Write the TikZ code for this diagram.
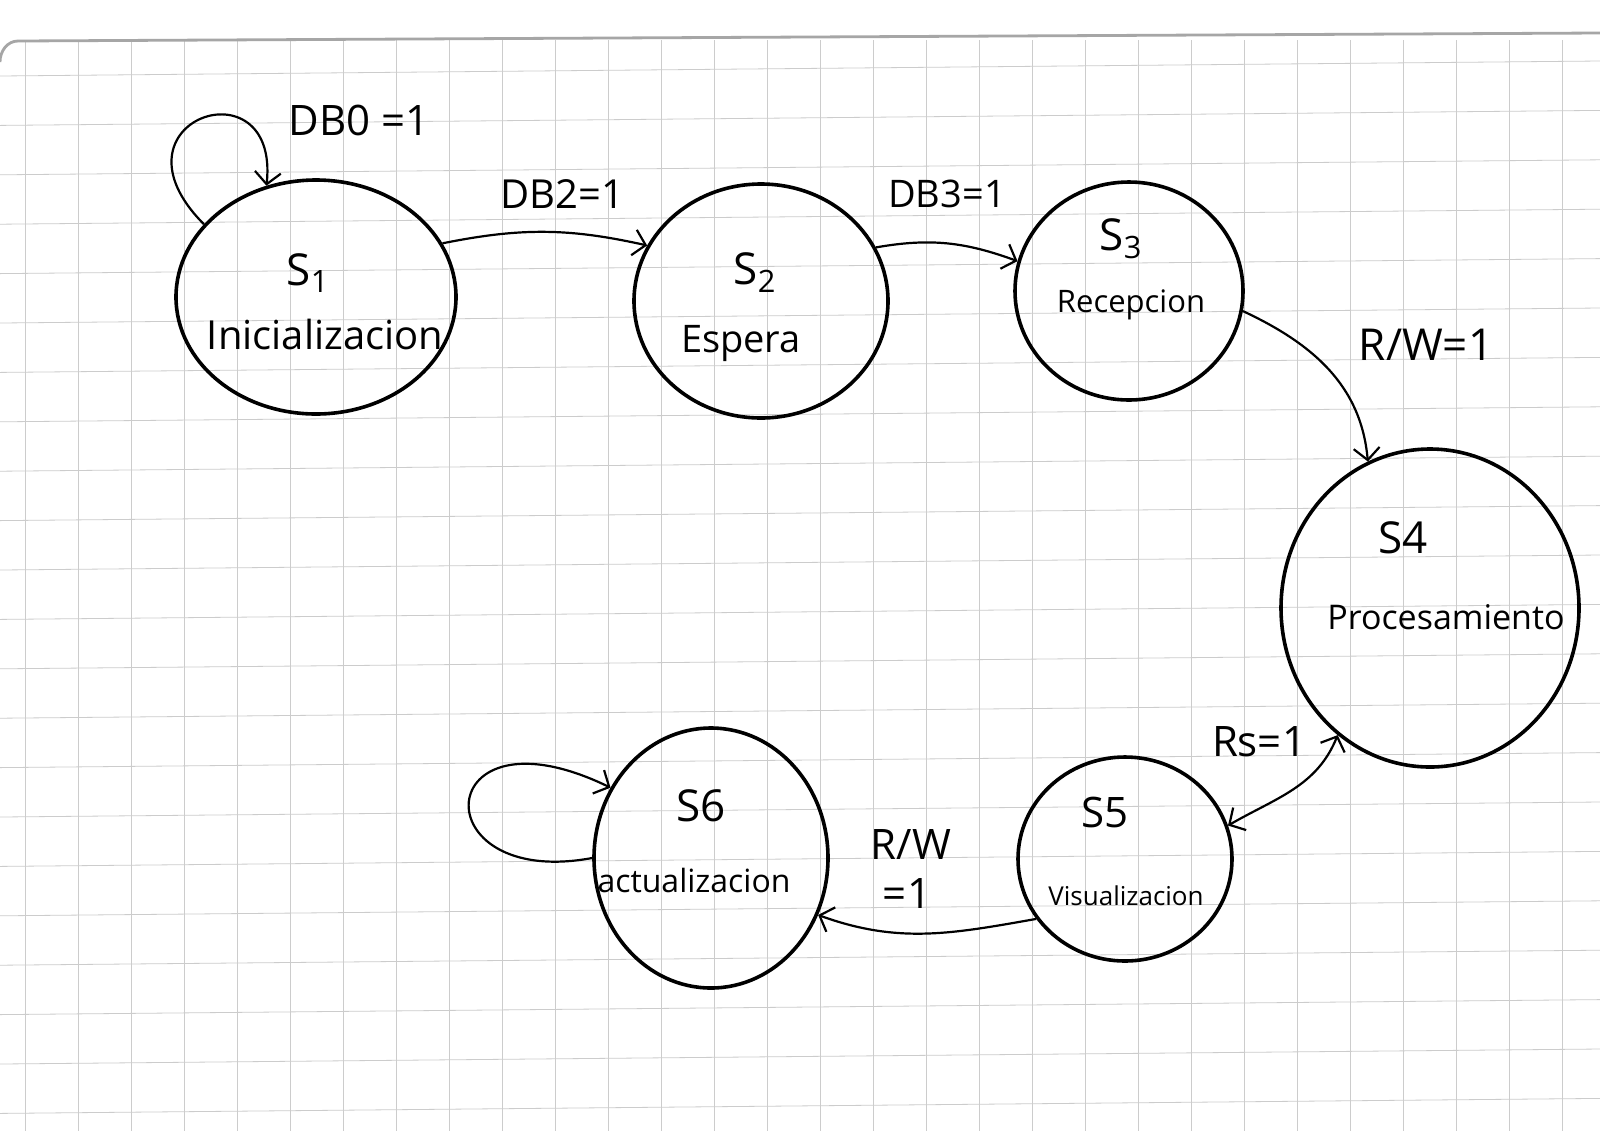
\documentclass[tikz,border=0pt]{standalone}
\usepackage{fontspec}
\setmainfont{Open Sans}
\usetikzlibrary{shapes.geometric,arrows.meta}
\newcommand\myfs[1]{\fontsize{#1}{#1}\selectfont}
\begin{document}
\begin{tikzpicture}[x=0.5pt,y=-0.5pt,
  state/.style={draw, ellipse, line width=1.8pt, inner sep=0pt},
  tip/.tip={Straight Barb[length=6pt,width=13pt,line width=1.1pt]},
  conn/.style={line width=1.1pt, -tip},
  lbl/.style={inner sep=0pt, anchor=center},
  gridline/.style={gray!40, line width=0.4pt},
  paperedge/.style={gray!70, line width=1.4pt}]
\useasboundingbox (0,0) rectangle (1600,1131);
\fill[white] (0,0) rectangle (1600,1131);
% paper grid
\foreach \k in {0,...,29} {
  \draw[gridline] ({25+53*\k},40) -- ({25+53*\k},1131);
}
\foreach \j in {0,...,21} {
  \draw[gridline] (0,{76+49.4*\j}) -- (1600,{61+49.4*\j});
}
\draw[paperedge] (0,62) to[out=90,in=180] (18,41) -- (1600,33);
% states
\node[state, minimum width=140pt, minimum height=117pt] (S1) at (316,297) {};
\node[state, minimum width=127pt, minimum height=117pt] (S2) at (761,301) {};
\node[state, minimum width=114pt, minimum height=109pt] (S3) at (1129,291) {};
\node[state, minimum width=149pt, minimum height=159pt] (S4) at (1430,608) {};
\node[state, minimum width=107pt, minimum height=102pt] (S5) at (1125,859) {};
\node[state, minimum width=117pt, minimum height=130pt] (S6) at (711,858) {};
% state texts
\node[lbl] (t1a) at (308,273) {\myfs{22}S\textsubscript{1}};
\node[lbl] (t1b) at (325,334) {\myfs{20}Inicializacion};
\node[lbl] (t2a) at (755,273) {\myfs{22}S\textsubscript{2}};
\node[lbl] (t2b) at (741,343) {\myfs{19}Espera};
\node[lbl] (t3a) at (1121,239) {\myfs{22}S\textsubscript{3}};
\node[lbl] (t3b) at (1131,305) {\myfs{15.5}Recepcion};
\node[lbl] (t4a) at (1403,538) {\myfs{22}S4};
\node[lbl] (t4b) at (1446,617) {\myfs{17}Procesamiento};
\node[lbl] (t5a) at (1105,812) {\myfs{21}S5};
\node[lbl] (t5b) at (1126,896) {\myfs{13}Visualizacion};
\node[lbl] (t6a) at (701,806) {\myfs{22}S6};
\node[lbl] (t6b) at (694,880) {\myfs{16}actualizacion};
% transition labels
\node[lbl] (l1) at (359,120) {\myfs{21}DB0 =1};
\node[lbl] (l2) at (562,194) {\myfs{20}DB2=1};
\node[lbl] (l3) at (947,194) {\myfs{19}DB3=1};
\node[lbl] (l4) at (1426,345) {\myfs{22}R/W=1};
\node[lbl] (l5) at (1259,742) {\myfs{21}Rs=1};
\node[lbl] (l6a) at (911,844) {\myfs{21}R/W};
\node[lbl] (l6b) at (907,893) {\myfs{21}=1};
% connectors
\draw[conn] (S1.147) .. controls (100,120) and (280,60) .. (S1.114);
\draw[conn] (S1.23) to[bend left=12] (S2.154);
\draw[conn] (S2.25) to[out=10,in=160] (S3.165);
\draw[conn] (S3.-10) to[out=-25,in=95] (S4.113);
\draw[conn, tip-tip] (S5.18) to[out=30,in=-112] (S4.-126);
\draw[conn] (S5.214) to[out=190,in=-20] (S6.-28);
\draw[conn] (S6.180) .. controls (420,890) and (430,700) .. (S6.145);
\end{tikzpicture}
\end{document}
